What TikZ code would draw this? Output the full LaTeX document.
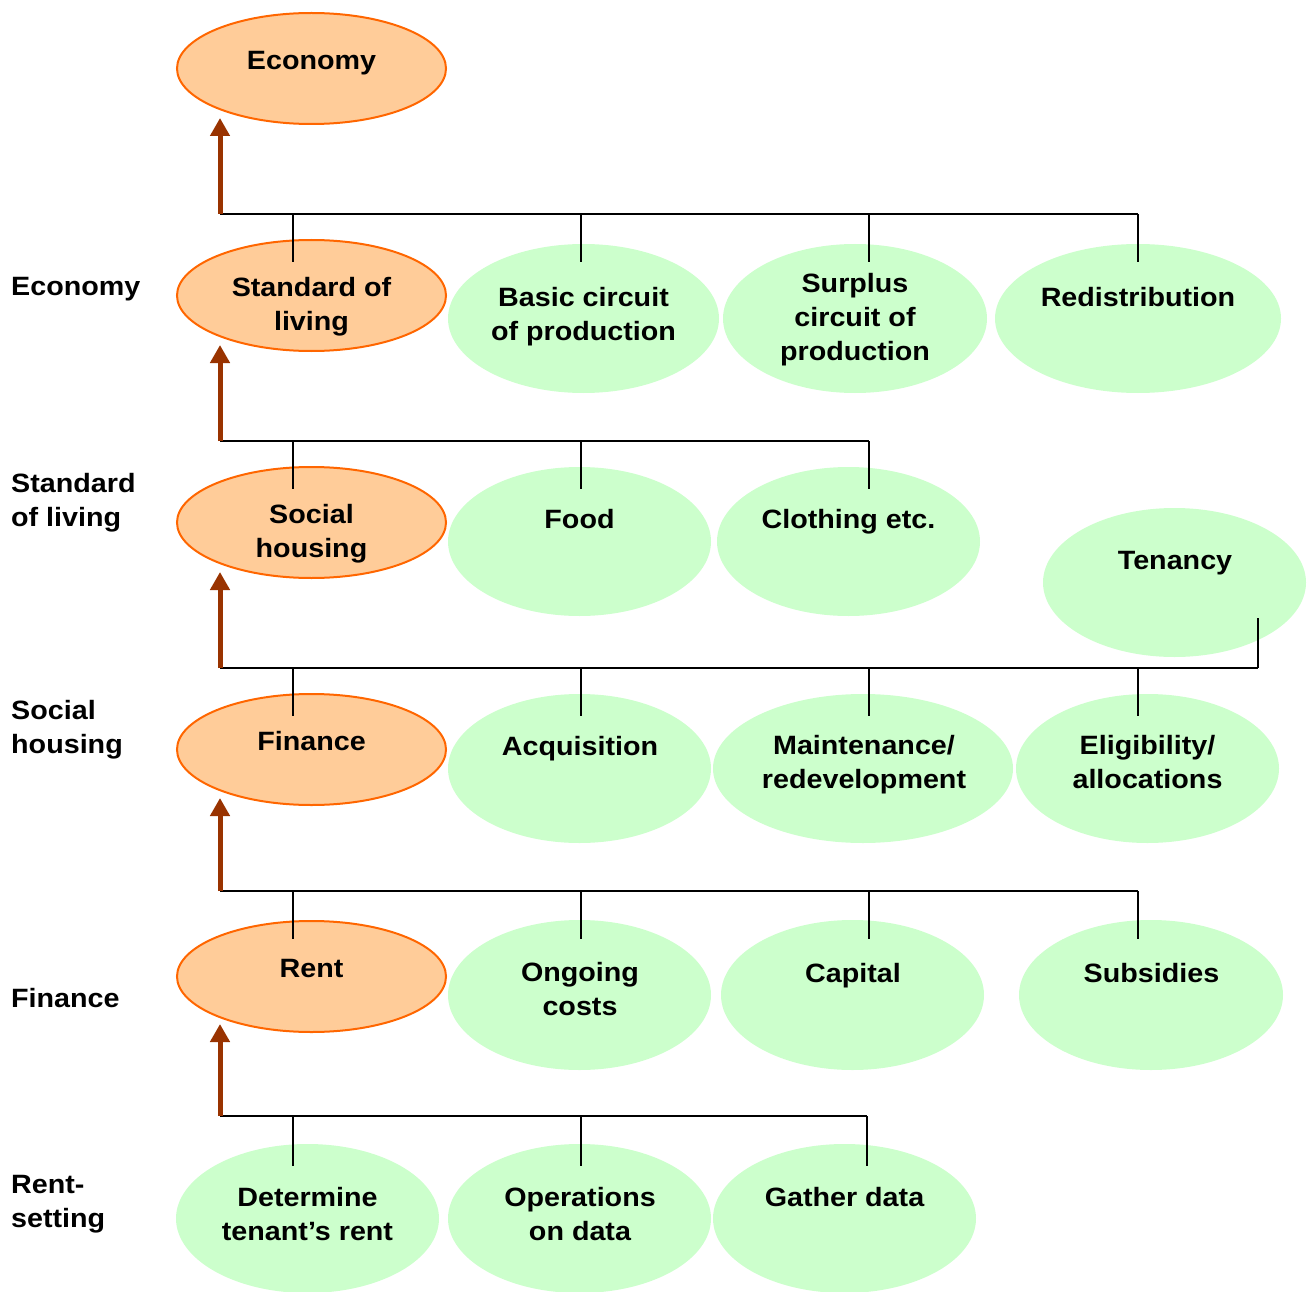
\documentclass[tikz,border=0pt]{standalone}
\usepackage{fontspec}
\newfontfamily\diagfont{Liberation Sans}[FakeStretch=1.083]
\usetikzlibrary{arrows.meta,shapes.geometric}
\definecolor{peach}{HTML}{FFCC99}
\definecolor{peachline}{HTML}{FF6600}
\definecolor{mint}{HTML}{CCFFCC}
\definecolor{rust}{HTML}{993300}
% stacked lines, centred or flush left, baseline on the first line
\newcommand{\mlc}[1]{\begin{tabular}[t]{@{}c@{}}#1\end{tabular}}
\newcommand{\mll}[1]{\begin{tabular}[t]{@{}l@{}}#1\end{tabular}}
\begin{document}
\begin{tikzpicture}[x=1pt,y=-1pt,
  lvl/.style={ellipse, fill=peach, draw=peachline, line width=2pt,
    minimum width=269pt, minimum height=111pt, inner sep=0pt},
  item/.style={ellipse, fill=mint, minimum height=149pt, inner sep=0pt},
  txt/.style={font=\diagfont\bfseries\fontsize{26.5}{34}\selectfont,
    inner sep=0pt, anchor=base},
  side/.style={txt, anchor=base west},
  link/.style={line width=2pt, black},
  uparrow/.style={rust, line width=5pt, line cap=butt,
    -{Triangle[width=19pt,length=18pt]}},
]
\useasboundingbox (0,0) rectangle (1307,1292);

% ---- levels (orange) ----
\node[lvl] (econ) at (311.5,68.5) {};
\node[lvl] (std)  at (311.5,295.5) {};
\node[lvl] (soc)  at (311.5,522.5) {};
\node[lvl] (fin)  at (311.5,749.5) {};
\node[lvl] (rent) at (311.5,976.5) {};

% ---- components (green) ----
\node[item, minimum width=271pt] (basic) at (583.5,318.5) {};
\node[item, minimum width=264pt] (surp)  at (855,318.5) {};
\node[item, minimum width=286pt] (redis) at (1138,318.5) {};
\node[item, minimum width=263pt] (food)  at (579.5,541.5) {};
\node[item, minimum width=263pt] (cloth) at (848.5,541.5) {};
\node[item, minimum width=263pt] (ten)   at (1174.5,582.5) {};
\node[item, minimum width=263pt] (acq)   at (579.5,768.5) {};
\node[item, minimum width=300pt] (maint) at (863,768.5) {};
\node[item, minimum width=263pt] (elig)  at (1147.5,768.5) {};
\node[item, minimum width=263pt, minimum height=150pt] (ong) at (579.5,995) {};
\node[item, minimum width=263pt, minimum height=150pt] (cap) at (852.5,995) {};
\node[item, minimum width=264pt, minimum height=150pt] (sub) at (1151,995) {};
\node[item, minimum width=263pt] (det) at (307.5,1218.5) {};
\node[item, minimum width=263pt] (ops) at (579.5,1218.5) {};
\node[item, minimum width=263pt] (gat) at (844.5,1218.5) {};

% ---- texts ----
\node[txt] (tEcon)  at (311.5,70)   {Economy};
\node[txt] (tStd)   at (311.5,297)  {\mlc{Standard of\\living}};
\node[txt] (tBasic) at (583.5,306)  {\mlc{Basic circuit\\of production}};
\node[txt] (tSurp)  at (855,292)    {\mlc{Surplus\\circuit of\\production}};
\node[txt] (tRedis) at (1138,306)   {Redistribution};
\node[txt] (tSoc)   at (311.5,523)  {\mlc{Social\\housing}};
\node[txt] (tFood)  at (579.5,528)  {Food};
\node[txt] (tCloth) at (848.5,528)  {Clothing etc.};
\node[txt] (tTen)   at (1175,569)   {Tenancy};
\node[txt] (tFin)   at (311.5,750)  {Finance};
\node[txt] (tAcq)   at (580,755)    {Acquisition};
\node[txt] (tMaint) at (864,754)    {\mlc{Maintenance/\\redevelopment}};
\node[txt] (tElig)  at (1147.5,754) {\mlc{Eligibility/\\allocations}};
\node[txt] (tRent)  at (311.5,977)  {Rent};
\node[txt] (tOng)   at (580,981)    {\mlc{Ongoing\\costs}};
\node[txt] (tCap)   at (853,982)    {Capital};
\node[txt] (tSub)   at (1151.5,982) {Subsidies};
\node[txt] (tDet)   at (307.5,1206) {\mlc{Determine\\tenant’s rent}};
\node[txt] (tOps)   at (580,1206)   {\mlc{Operations\\on data}};
\node[txt] (tGat)   at (844.5,1206) {Gather data};

% ---- row labels ----
\node[side] (lEcon) at (11,295)  {Economy};
\node[side] (lStd)  at (11,492)  {\mll{Standard\\of living}};
\node[side] (lSoc)  at (11,719)  {\mll{Social\\housing}};
\node[side] (lFin)  at (11,1007) {Finance};
\node[side] (lRent) at (11,1193) {\mll{Rent-\\setting}};

% ---- row 1: components of the economy ----
\coordinate (r1) at (220,214);
\coordinate (r1end) at (1138,214);
\draw[link] (r1) -- (r1end);
\foreach \n/\x in {a/293,b/581,c/869,d/1138} \coordinate (r1\n) at (\x,262);
\foreach \n in {a,b,c,d} \draw[link] (r1\n |- r1) -- (r1\n);
\coordinate (r1tip) at (220,118);
\draw[uparrow] (r1) -- (r1tip);

% ---- row 2: components of the standard of living ----
\coordinate (r2) at (220,441);
\coordinate (r2end) at (869,441);
\draw[link] (r2) -- (r2end);
\foreach \n/\x in {a/293,b/581,c/869} \coordinate (r2\n) at (\x,489);
\foreach \n in {a,b,c} \draw[link] (r2\n |- r2) -- (r2\n);
\coordinate (r2tip) at (220,345);
\draw[uparrow] (r2) -- (r2tip);

% ---- row 3: components of social housing ----
\coordinate (r3) at (220,668);
\coordinate (r3end) at (1258,668);
\draw[link] (r3) -- (r3end);
\foreach \n/\x in {a/293,b/581,c/869,d/1138} \coordinate (r3\n) at (\x,716);
\foreach \n in {a,b,c,d} \draw[link] (r3\n |- r3) -- (r3\n);
\coordinate (r3e) at (1258,618);
\draw[link] (r3e |- r3) -- (r3e);
\coordinate (r3tip) at (220,572);
\draw[uparrow] (r3) -- (r3tip);

% ---- row 4: components of finance ----
\coordinate (r4) at (220,891);
\coordinate (r4end) at (1138,891);
\draw[link] (r4) -- (r4end);
\foreach \n/\x in {a/293,b/581,c/869,d/1138} \coordinate (r4\n) at (\x,939);
\foreach \n in {a,b,c,d} \draw[link] (r4\n |- r4) -- (r4\n);
\coordinate (r4tip) at (220,798);
\draw[uparrow] (r4) -- (r4tip);

% ---- row 5: components of rent-setting ----
\coordinate (r5) at (220,1116);
\coordinate (r5end) at (867,1116);
\draw[link] (r5) -- (r5end);
\foreach \n/\x in {a/293,b/581,c/867} \coordinate (r5\n) at (\x,1166);
\foreach \n in {a,b,c} \draw[link] (r5\n |- r5) -- (r5\n);
\coordinate (r5tip) at (220,1024);
\draw[uparrow] (r5) -- (r5tip);
\end{tikzpicture}
\end{document}
